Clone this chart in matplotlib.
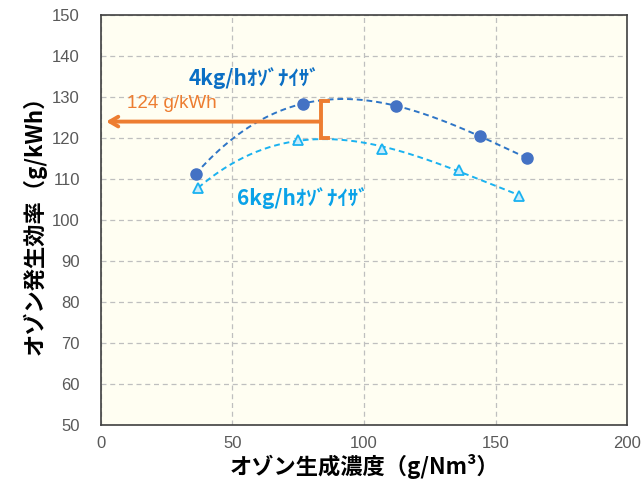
import matplotlib
matplotlib.use('Agg')
import matplotlib.pyplot as plt
import numpy as np

plt.rcParams['font.family'] = ['Noto Sans CJK JP', 'DejaVu Sans']

# data
x_4kg = [36, 77, 112, 144, 162]
y_4kg = [111.2, 128.4, 127.9, 120.4, 115.1]
x_6kg = [37, 75, 107, 136, 159]
y_6kg = [107.8, 119.6, 117.4, 112.3, 105.9]
label_4kg = '4kg/hｵｿﾞﾅｲｻﾞ'
label_6kg = '6kg/hｵｿﾞﾅｲｻﾞ'
arrow_y = 124
bracket_x = 83.5
bracket_lo, bracket_hi = 120, 129.1
arrow_label = '124 g/kWh'

fig = plt.figure(figsize=(6.42, 4.84), dpi=100)
ax = fig.add_axes([0.157, 0.122, 0.820, 0.847])
ax.set_facecolor('#fffef2')

ax.set_xlim(0, 200)
ax.set_ylim(50, 150)
ax.set_xticks(np.arange(0, 201, 50))
ax.set_yticks(np.arange(50, 151, 10))
ax.grid(True, color='#bfbfbf', linestyle=(0, (4, 3)), linewidth=0.9)
ax.set_axisbelow(True)
for s in ax.spines.values():
    s.set_color('#404040')
    s.set_linewidth(1.2)
ax.tick_params(length=0, labelsize=12, colors='#595959')
ax.tick_params(axis='x', pad=8)
ax.tick_params(axis='y', pad=15)
for lb in ax.get_xticklabels() + ax.get_yticklabels():
    lb.set_family(['Liberation Sans', 'DejaVu Sans'])

# trendlines (polynomial, like the spreadsheet trendline)
for xs, ys, col in [(x_4kg, y_4kg, '#2e75c6'), (x_6kg, y_6kg, '#1ab2f0')]:
    p = np.polyfit(xs, ys, 3)
    xx = np.linspace(min(xs), max(xs), 200)
    ax.plot(xx, np.polyval(p, xx), color=col, linestyle=(0, (3, 2)), linewidth=1.4, zorder=3)

ax.plot(x_4kg, y_4kg, 'o', color='#4472c4', markersize=8, zorder=4, linestyle='none')
ax.plot(x_6kg, y_6kg, '^', markerfacecolor='#c9ecfb', markeredgecolor='#1ab2f0',
        markeredgewidth=1.3, markersize=7, zorder=4, linestyle='none')

# orange arrow and bracket
ax.annotate('', xy=(2, arrow_y), xytext=(bracket_x, arrow_y),
            arrowprops=dict(arrowstyle='->,head_length=0.6,head_width=0.35', color='#ed7d31',
                            lw=2.8, shrinkA=0, shrinkB=0), zorder=5)
ax.plot([bracket_x + 3, bracket_x, bracket_x, bracket_x + 3],
        [bracket_hi, bracket_hi, bracket_lo, bracket_lo],
        color='#ed7d31', linewidth=2.8, zorder=5, solid_joinstyle='miter')
ax.text(9.8, 128.4, arrow_label, color='#ed7d31', fontsize=13.5,
        family=['Liberation Sans', 'DejaVu Sans'], va='center', ha='left')

ax.text(33.4, 134.6, label_4kg, color='#0b6fc4', fontsize=15, fontweight='bold', va='center')
ax.text(51.6, 105.4, label_6kg, color='#0aa2e8', fontsize=15, fontweight='bold', va='center')

ax.set_xlabel('オゾン生成濃度（g/Nm³）', fontsize=16, fontweight='bold', labelpad=2)
ax.set_ylabel('オゾン発生効率（g/kWh）', fontsize=16, fontweight='bold', labelpad=4)

fig.savefig('out.png', dpi=100)
